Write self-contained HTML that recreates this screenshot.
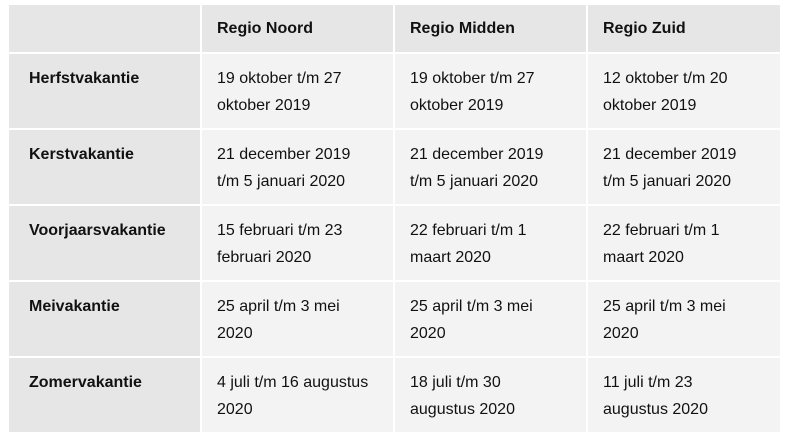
<!DOCTYPE html>
<html><head><meta charset="utf-8"><style>
body{margin:0;background:#fff;width:785px;height:437px;overflow:hidden;font-family:"Liberation Sans",sans-serif;}
table{position:absolute;left:7px;top:3px;border-collapse:separate;border-spacing:2px;}
td,th{font-size:16px;line-height:27px;color:#111;text-align:left;vertical-align:top;padding:11px 10px 0 15px;box-sizing:border-box;white-space:nowrap;overflow:hidden;}
th{background:#e6e6e6;font-weight:bold;height:47px;padding-top:10px;}
tbody tr{height:74px;}
tbody th{padding-top:11px;padding-left:20px;}
td{background:#f3f3f3;}
</style></head><body>
<table style="table-layout:fixed;width:773px">
<colgroup><col style="width:191px"><col style="width:191px"><col style="width:191px"><col style="width:192px"></colgroup>
<thead><tr>
<th></th>
<th>Regio Noord</th>
<th>Regio Midden</th>
<th>Regio Zuid</th></tr></thead>
<tbody>
<tr><th>Herfstvakantie</th><td>19 oktober t/m 27<br>oktober 2019</td><td>19 oktober t/m 27<br>oktober 2019</td><td>12 oktober t/m 20<br>oktober 2019</td></tr>
<tr><th>Kerstvakantie</th><td>21 december 2019<br>t/m 5 januari 2020</td><td>21 december 2019<br>t/m 5 januari 2020</td><td>21 december 2019<br>t/m 5 januari 2020</td></tr>
<tr><th>Voorjaarsvakantie</th><td>15 februari t/m 23<br>februari 2020</td><td>22 februari t/m 1<br>maart 2020</td><td>22 februari t/m 1<br>maart 2020</td></tr>
<tr><th>Meivakantie</th><td>25 april t/m 3 mei<br>2020</td><td>25 april t/m 3 mei<br>2020</td><td>25 april t/m 3 mei<br>2020</td></tr>
<tr><th>Zomervakantie</th><td>4 juli t/m 16 augustus<br>2020</td><td>18 juli t/m 30<br>augustus 2020</td><td>11 juli t/m 23<br>augustus 2020</td></tr>
</tbody></table>
</body></html>
